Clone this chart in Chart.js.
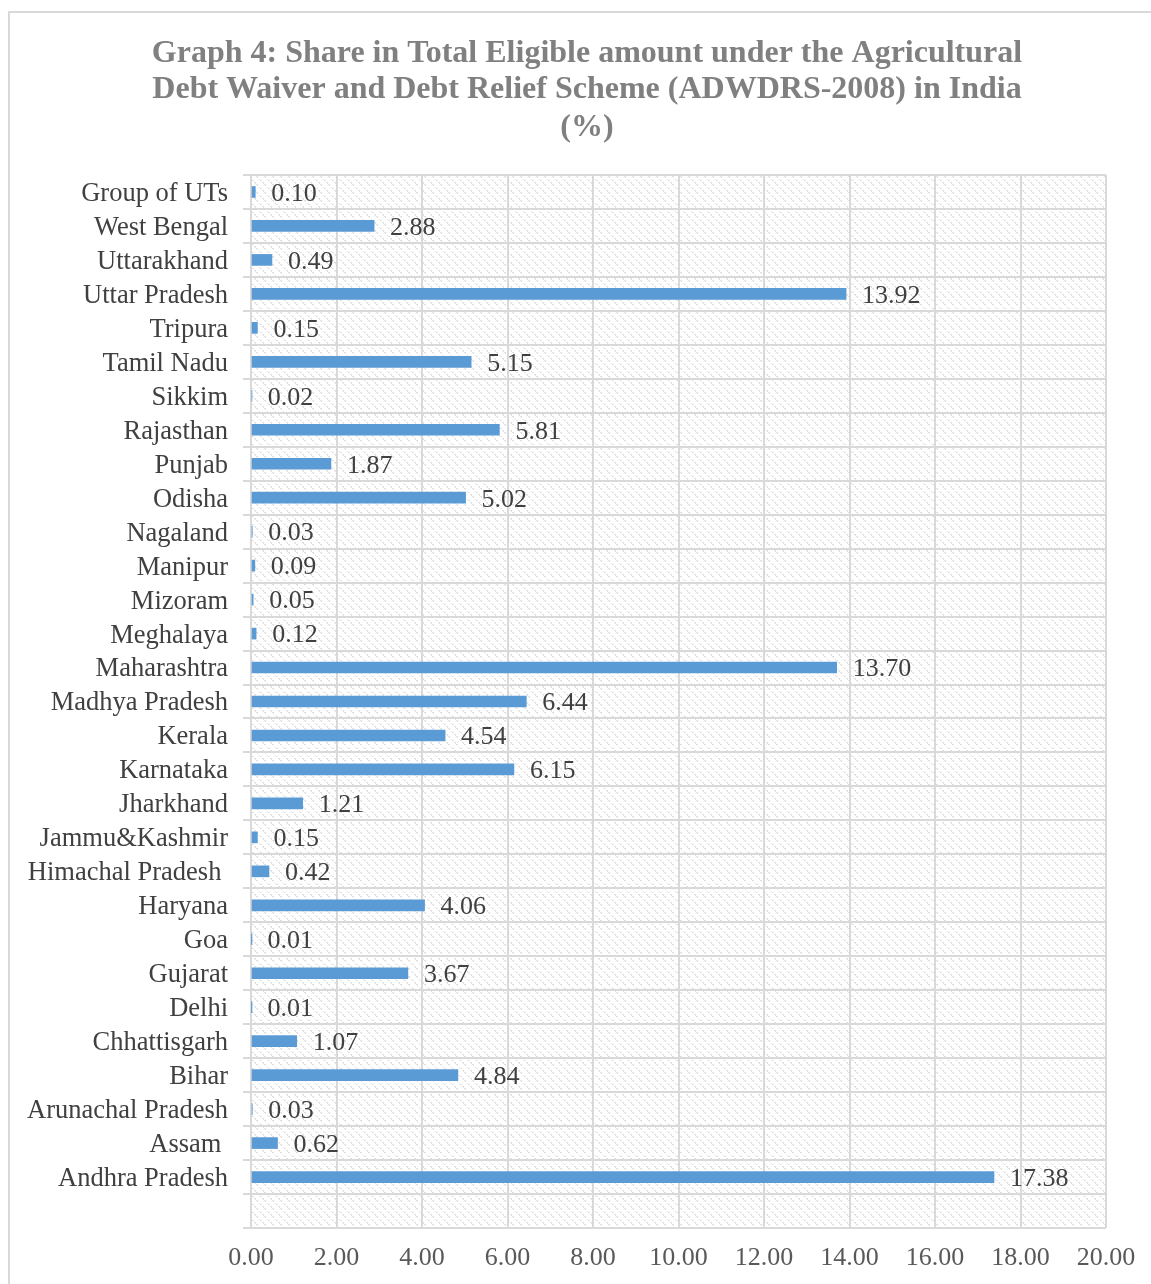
<!DOCTYPE html>
<html>
<head>
<meta charset="utf-8">
<title>ADWDRS-2008 share by state</title>
<script src="https://cdn.jsdelivr.net/npm/chart.js@4.4.1/dist/chart.umd.min.js"></script>
<style>
  html, body { margin: 0; padding: 0; background: #ffffff; overflow: hidden; }
  #frame {
    position: absolute; left: 8px; top: 11px; width: 1300px; height: 1400px;
    border: 2px solid #d9d9d9; box-sizing: border-box;
  }
  #wrap { position: absolute; left: 0; top: 0; width: 1151px; height: 1284px; }
</style>
</head>
<body>
<div id="frame"></div>
<div id="wrap"><canvas id="chart" width="1151" height="1284"></canvas></div>
<script>
// Chart title, one entry per line
const titleLines = [
  'Graph 4: Share in Total Eligible amount under the Agricultural',
  'Debt Waiver and Debt Relief Scheme (ADWDRS-2008) in India',
  '(%)'
];

// States / UTs, listed top to bottom (last row is left blank)
const states = [
  'Group of UTs', 'West Bengal', 'Uttarakhand', 'Uttar Pradesh', 'Tripura',
  'Tamil Nadu', 'Sikkim', 'Rajasthan', 'Punjab', 'Odisha', 'Nagaland',
  'Manipur', 'Mizoram', 'Meghalaya', 'Maharashtra', 'Madhya Pradesh',
  'Kerala', 'Karnataka', 'Jharkhand', 'Jammu&Kashmir', 'Himachal Pradesh ',
  'Haryana', 'Goa', 'Gujarat', 'Delhi', 'Chhattisgarh', 'Bihar',
  'Arunachal Pradesh', 'Assam ', 'Andhra Pradesh', ''
];

// Share in total eligible amount (%)
const sharePct = [
  0.10, 2.88, 0.49, 13.92, 0.15,
  5.15, 0.02, 5.81, 1.87, 5.02, 0.03,
  0.09, 0.05, 0.12, 13.70, 6.44,
  4.54, 6.15, 1.21, 0.15, 0.42,
  4.06, 0.01, 3.67, 0.01, 1.07, 4.84,
  0.03, 0.62, 17.38, null
];

// Value axis range and tick step
const axisMin = 0;
const axisMax = 20;
const axisStep = 2;

const serif = '"Liberation Serif", "Times New Roman", serif';

// Light diagonal hatch used as the plot-area background
function makeHatch(ctx) {
  const c = document.createElement('canvas');
  c.width = 8; c.height = 8;
  const g = c.getContext('2d');
  g.fillStyle = '#ffffff';
  g.fillRect(0, 0, 8, 8);
  g.fillStyle = '#e0e0e0';
  for (let i = 0; i < 8; i++) {
    if (i % 3 === 2) continue;
    g.fillRect(i, i, 1, 1);
    if (i % 2 === 0) g.fillRect((i + 1) % 8, i, 1, 1);
  }
  return ctx.createPattern(c, 'repeat');
}

const backgroundPlugin = {
  id: 'hatchBackground',
  beforeDraw(chart) {
    const { ctx, chartArea: a } = chart;
    ctx.save();
    ctx.fillStyle = makeHatch(ctx);
    ctx.fillRect(a.left, a.top, a.right - a.left, a.bottom - a.top);
    ctx.restore();
  }
};

const titlePlugin = {
  id: 'titleLines',
  afterDraw(chart) {
    const ctx = chart.ctx;
    ctx.save();
    ctx.font = 'bold 32px ' + serif;
    ctx.fillStyle = '#808080';
    ctx.textAlign = 'center';
    ctx.textBaseline = 'middle';
    const ys = [54, 90, 128];
    titleLines.forEach((t, i) => ctx.fillText(t, 587, ys[i]));
    ctx.restore();
  }
};

const valueLabelPlugin = {
  id: 'valueLabels',
  afterDatasetsDraw(chart) {
    const ctx = chart.ctx;
    const meta = chart.getDatasetMeta(0);
    ctx.save();
    ctx.font = '26px ' + serif;
    ctx.fillStyle = '#404040';
    ctx.textAlign = 'left';
    ctx.textBaseline = 'middle';
    meta.data.forEach((bar, i) => {
      const v = sharePct[i];
      if (v === null || v === undefined) return;
      ctx.fillText(v.toFixed(2), bar.x + 16, bar.y + 2);
    });
    ctx.restore();
  }
};

new Chart(document.getElementById('chart'), {
  type: 'bar',
  data: {
    labels: states,
    datasets: [{
      data: sharePct,
      backgroundColor: '#5b9bd5',
      borderWidth: 0,
      barThickness: 11
    }]
  },
  options: {
    indexAxis: 'y',
    responsive: false,
    animation: false,
    devicePixelRatio: 1,
    layout: { padding: { left: 0, right: 45, top: 175, bottom: 0 } },
    plugins: {
      legend: { display: false },
      title: { display: false },
      tooltip: { enabled: false }
    },
    scales: {
      x: {
        min: axisMin,
        max: axisMax,
        afterFit(scale) { scale.height = 56; },
        ticks: {
          stepSize: axisStep,
          padding: 15,
          color: '#595959',
          font: { family: serif, size: 26 },
          callback: v => Number(v).toFixed(2)
        },
        grid: { color: '#d9d9d9', lineWidth: 2, drawTicks: false },
        border: { display: false }
      },
      y: {
        afterFit(scale) { scale.width = 251; },
        ticks: {
          padding: 15,
          labelOffset: 2,
          color: '#404040',
          font: { family: serif, size: 26.5 },
          autoSkip: false
        },
        grid: { color: '#d9d9d9', lineWidth: 2, offset: true, tickLength: 8 },
        border: { display: true, color: '#d9d9d9', width: 2 }
      }
    }
  },
  plugins: [backgroundPlugin, titlePlugin, valueLabelPlugin]
});
</script>
</body>
</html>
